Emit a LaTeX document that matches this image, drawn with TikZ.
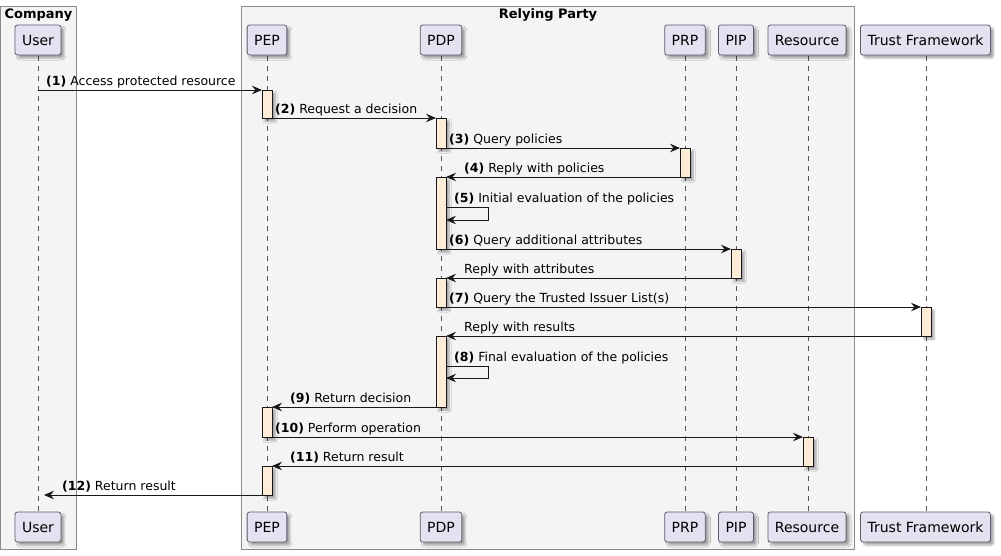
\documentclass[tikz,border=0pt]{standalone}
\usepackage{fontspec}
\setmainfont{DejaVu Sans}
\usetikzlibrary{arrows.meta,shadows.blur}
\definecolor{partfill}{HTML}{E2E2F0}
\definecolor{partdraw}{HTML}{5A5A6A}
\definecolor{actfill}{HTML}{FDEDD8}
\definecolor{grpfill}{HTML}{F4F4F4}
\definecolor{grpdraw}{HTML}{8A8A8A}
\definecolor{lifecol}{HTML}{555555}
\definecolor{msgcol}{HTML}{181818}
\tikzset{
  shad/.style={blur shadow={shadow xshift=3pt, shadow yshift=-3pt, shadow blur radius=2pt, shadow opacity=35}},
  part/.style={draw=partdraw, fill=partfill, rounded corners=2.5pt, line width=0.8pt,
    minimum height=30pt, inner xsep=7pt, inner ysep=0pt, outer sep=0pt,
    font=\fontsize{14}{16}\selectfont, shad},
  act/.style={draw=msgcol, fill=actfill, line width=0.8pt, minimum width=10pt,
    inner sep=0pt, outer sep=0pt, shad},
  grp/.style={draw=grpdraw, fill=grpfill, line width=0.8pt},
  grplabel/.style={anchor=base, font=\fontsize{13}{15}\selectfont\bfseries, inner sep=0pt},
  life/.style={draw=lifecol, line width=0.5pt, dash pattern=on 5pt off 5pt},
  msg/.style={draw=msgcol, line width=1pt, -{Stealth[length=10pt,width=8.5pt,inset=3.5pt]}},
  lbl/.style={anchor=base west, inner sep=0pt, font=\fontsize{12.5}{15}\selectfont},
}
\begin{document}
\begin{tikzpicture}[x=1pt,y=-1pt]
\useasboundingbox (0,0) rectangle (1001,555);
% groups
\draw[grp] (0.5,6) rectangle (76.5,549.5);
\node[grplabel] (gc) at (38.5,18) {Company};
\draw[grp] (241.5,6) rectangle (854.5,549.5);
\node[grplabel] (gr) at (548,18) {Relying Party};
% lifelines
\foreach \n/\x in {User/38,PEP/267,PDP/441,PRP/685,PIP/736,Res/808,TF/926}{
  \coordinate (\n-top) at (\x,56);
  \coordinate (\n-bot) at (\x,512);
  \draw[life] (\n-top) -- (\n-bot);
}
% participants
\node[part] (pUser) at (38,40) {User};
\node[part] (pPEP) at (267,40) {PEP};
\node[part] (pPDP) at (441,40) {PDP};
\node[part] (pPRP) at (685,40) {PRP};
\node[part] (pPIP) at (736,40) {PIP};
\node[part] (pRes) at (807,40) {Resource};
\node[part] (pTF) at (925.5,40) {Trust Framework};
\node[part] (qUser) at (38,527) {User};
\node[part] (qPEP) at (267,527) {PEP};
\node[part] (qPDP) at (441,527) {PDP};
\node[part] (qPRP) at (685,527) {PRP};
\node[part] (qPIP) at (736,527) {PIP};
\node[part] (qRes) at (807,527) {Resource};
\node[part] (qTF) at (925.5,527) {Trust Framework};
% activations
\node[act, minimum height=28pt] (pep1) at (267,104) {};
\node[act, minimum height=30pt] (pep2) at (267,422) {};
\node[act, minimum height=29pt] (pep3) at (267,480.5) {};
\node[act, minimum height=30pt] (pdp1) at (441,133) {};
\node[act, minimum height=72pt] (pdp2) at (441,213) {};
\node[act, minimum height=29pt] (pdp3) at (441,292.5) {};
\node[act, minimum height=71pt] (pdp4) at (441,371.5) {};
\node[act, minimum height=29pt] (prp1) at (685,162.5) {};
\node[act, minimum height=29pt] (pip1) at (736,263.5) {};
\node[act, minimum height=29pt] (tf1) at (926,321.5) {};
\node[act, minimum height=29pt] (res1) at (808,451.5) {};
% message endpoints on lifelines
\coordinate (u1) at (38,90);
\coordinate (u2) at (44,495);
\coordinate (s5a) at (446,207);
\coordinate (s5b) at (488,207);
\coordinate (s5c) at (488,220);
\coordinate (s5d) at (446,220);
\coordinate (s8a) at (446,366);
\coordinate (s8b) at (488,366);
\coordinate (s8c) at (488,378);
\coordinate (s8d) at (446,378);
% messages
\draw[msg] (u1) -- (pep1.north west);
\draw[msg] (pep1.south east) -- (pdp1.north west);
\draw[msg] (pdp1.south east) -- (prp1.north west);
\draw[msg] (prp1.south west) -- (pdp2.north east);
\draw[msg] (s5a) -- (s5b) -- (s5c) -- (s5d);
\draw[msg] (pdp2.south east) -- (pip1.north west);
\draw[msg] (pip1.south west) -- (pdp3.north east);
\draw[msg] (pdp3.south east) -- (tf1.north west);
\draw[msg] (tf1.south west) -- (pdp4.north east);
\draw[msg] (s8a) -- (s8b) -- (s8c) -- (s8d);
\draw[msg] (pdp4.south west) -- (pep2.north east);
\draw[msg] (pep2.south east) -- (res1.north west);
\draw[msg] (res1.south west) -- (pep3.north east);
\draw[msg] (pep3.south west) -- (u2);
% labels
\node[lbl] (l1) at (46,85.5) {\textbf{(1)} Access protected resource};
\node[lbl] (l2) at (275,113.5) {\textbf{(2)} Request a decision};
\node[lbl] (l3) at (449,143) {\textbf{(3)} Query policies};
\node[lbl] (l4) at (464,172) {\textbf{(4)} Reply with policies};
\node[lbl] (l5) at (454,202) {\textbf{(5)} Initial evaluation of the policies};
\node[lbl] (l6) at (449,244) {\textbf{(6)} Query additional attributes};
\node[lbl] (l6r) at (464,273) {Reply with attributes};
\node[lbl] (l7) at (449,302) {\textbf{(7)} Query the Trusted Issuer List(s)};
\node[lbl] (l7r) at (464,331) {Reply with results};
\node[lbl] (l8) at (454,361) {\textbf{(8)} Final evaluation of the policies};
\node[lbl] (l9) at (290,402) {\textbf{(9)} Return decision};
\node[lbl] (l10) at (275,432) {\textbf{(10)} Perform operation};
\node[lbl] (l11) at (290,461) {\textbf{(11)} Return result};
\node[lbl] (l12) at (62,490) {\textbf{(12)} Return result};
\end{tikzpicture}
\end{document}
